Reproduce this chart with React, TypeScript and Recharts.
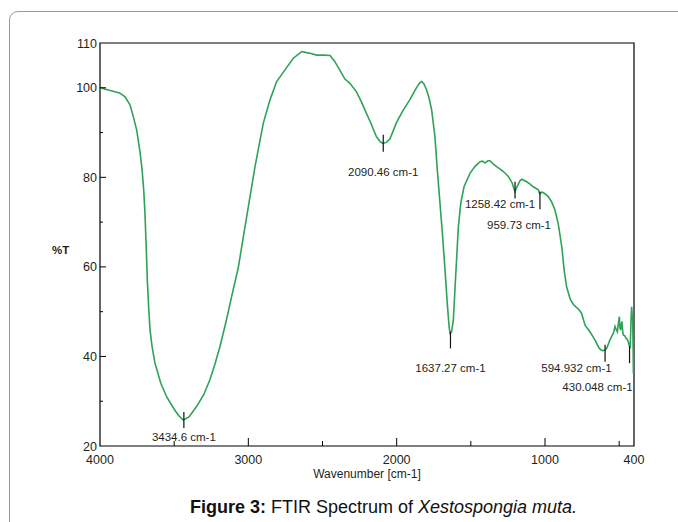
import React from "react";
import {
  LineChart,
  Line,
  XAxis,
  YAxis,
  ReferenceArea,
  ReferenceLine,
  ReferenceDot,
  Label,
} from "recharts";

// spectrum (wavenumber cm-1, %T)
const wavenumbers = [
  4000, 3944, 3900, 3865, 3831, 3798, 3775, 3753, 3742, 3730, 3717, 3705, 3697, 3689, 3681, 3672,
  3663, 3648, 3630, 3590, 3551, 3500, 3470, 3439, 3400, 3349, 3300, 3259, 3225, 3192, 3150, 3113,
  3068, 3011, 2955, 2899, 2854, 2809, 2753, 2697, 2640, 2600, 2584, 2539, 2490, 2449, 2420, 2384,
  2350, 2315, 2271, 2240, 2205, 2170, 2137, 2110, 2092, 2070, 2045, 2003, 1960, 1912, 1870, 1845,
  1831, 1815, 1798, 1780, 1764, 1742, 1726, 1708, 1690, 1674, 1659, 1646, 1640, 1630, 1618, 1600,
  1584, 1568, 1546, 1506, 1470, 1450, 1438, 1420, 1404, 1385, 1371, 1350, 1326, 1300, 1281, 1265,
  1247, 1222, 1210, 1202, 1194, 1182, 1170, 1157, 1140, 1124, 1100, 1079, 1060, 1045, 1038, 1034,
  1025, 1012, 995, 978, 955, 933, 910, 887, 870, 854, 830, 809, 790, 775, 753, 730,
  715, 697, 680, 663, 650, 634, 620, 607, 595, 584, 570, 562, 550, 539, 528, 520,
  512, 505, 499, 495, 490, 485, 481, 476, 472, 462, 454, 446, 439, 432, 427, 423,
  420, 416, 412, 409, 406, 404, 400,
];
const transmittance = [
  100.0, 99.5, 99.1, 98.8, 98.0, 96.2, 93.5, 90.6, 88.3, 85.5, 82.0, 77.0, 72.0, 65.0, 57.1, 51.0,
  46.0, 42.0, 38.6, 34.0, 31.0, 28.2, 26.8, 25.8, 26.5, 28.8, 31.5, 34.8, 38.3, 42.1, 47.8, 53.3,
  59.8, 71.2, 82.4, 92.1, 97.3, 101.4, 104.0, 106.6, 108.1, 107.8, 107.7, 107.3, 107.3, 107.2, 106.0, 104.0,
  102.0, 101.0, 99.1, 97.0, 94.4, 91.8, 89.1, 87.9, 87.6, 87.8, 88.6, 92.1, 94.8, 97.3, 99.8, 101.1,
  101.4, 100.8, 99.5, 97.5, 95.0, 89.1, 81.6, 74.2, 66.7, 59.3, 51.9, 46.5, 45.2, 45.5, 48.1, 59.3,
  69.0, 74.2, 77.9, 80.9, 82.5, 83.1, 83.5, 83.6, 83.2, 83.7, 83.7, 83.0, 82.4, 81.8, 81.3, 80.8,
  80.2, 78.8, 77.5, 76.8, 77.6, 78.3, 79.2, 79.6, 79.3, 79.0, 78.5, 77.9, 77.5, 77.2, 76.5, 76.3,
  76.7, 76.6, 76.2, 75.7, 74.5, 72.7, 69.5, 64.5, 59.0, 55.5, 52.8, 51.6, 51.0, 50.6, 49.6, 47.0,
  46.3, 45.5, 44.6, 43.7, 42.8, 41.8, 41.4, 41.3, 41.5, 41.8, 43.0, 43.7, 44.5, 45.2, 46.7, 46.0,
  45.5, 47.5, 48.9, 46.5, 45.9, 47.2, 47.8, 45.5, 44.8, 44.6, 44.1, 43.8, 43.3, 42.5, 41.8, 44.5,
  48.1, 51.1, 49.0, 48.1, 42.0, 36.2, 36.0,
];

const xTicks = [4000, 3500, 3000, 2500, 2000, 1500, 1000, 500, 400];
const xLabelled = [4000, 3000, 2000, 1000, 400];
const yTicks = [20, 30, 40, 50, 60, 70, 80, 90, 100, 110];
const yLabelled = [20, 40, 60, 80, 100, 110];

// peak markers: where the marker stands, marker span, label text and label centre
const peakX = [3434.6, 2090.46, 1637.27, 1202, 1034, 594.932, 430.048];
const peakTop = [27.6, 89.5, 45.5, 79.0, 76.8, 42.6, 42.3];
const peakBottom = [24.0, 85.7, 41.8, 75.3, 72.9, 38.8, 38.5];
const peakText = [
  "3434.6 cm-1",
  "2090.46 cm-1",
  "1637.27 cm-1",
  "1258.42 cm-1",
  "959.73 cm-1",
  "594.932 cm-1",
  "430.048 cm-1",
];
const peakLabelX = [3434.6, 2090.46, 1637.27, 1303, 1175, 788, 646];
const peakLabelY = [22.1, 81.2, 37.4, 74.0, 69.4, 37.4, 33.2];

const data = wavenumbers.map((w, i) => ({ w, t: transmittance[i] }));

const font = "'Liberation Sans', Arial, sans-serif";
const ink = "#231f20";

const XTick = ({ x, y, payload }: any) => {
  const v = payload.value;
  const major = xLabelled.includes(v);
  const edge = v === 4000 || v === 400;
  return (
    <g>
      {!edge && (
        <line x1={x} x2={x} y1={y} y2={y - (major ? 8 : 5)} stroke="#000" strokeWidth={1} />
      )}
      {major && (
        <text x={x} y={y + 18} textAnchor="middle" fontSize={12.5} fill={ink} fontFamily={font}>
          {v}
        </text>
      )}
    </g>
  );
};

const YTick = ({ x, y, payload }: any) => {
  const v = payload.value;
  const major = yLabelled.includes(v);
  const edge = v === 20 || v === 110;
  return (
    <g>
      {!edge && (
        <line x1={x} x2={x + (major ? 6 : 3)} y1={y} y2={y} stroke="#000" strokeWidth={1} />
      )}
      {major && (
        <text x={x - 3} y={y + 4.5} textAnchor="end" fontSize={12.5} fill={ink} fontFamily={font}>
          {v}
        </text>
      )}
    </g>
  );
};

export default function App() {
  return (
    <div
      style={{
        position: "absolute",
        left: 0,
        top: 0,
        width: 678,
        height: 522,
        overflow: "hidden",
        background: "#fff",
        fontFamily: font,
      }}
    >
      <div
        style={{
          position: "absolute",
          left: 9,
          top: 11,
          width: 700,
          height: 560,
          border: "1px solid #9a9a9a",
          borderRadius: 9,
          boxSizing: "border-box",
        }}
      />
      <div style={{ position: "absolute", left: 0, top: 0 }}>
        <LineChart
          width={678}
          height={522}
          data={data}
          margin={{ top: 43, right: 44, bottom: 40, left: 60 }}
        >
          <XAxis
            dataKey="w"
            type="number"
            domain={[400, 4000]}
            reversed
            allowDataOverflow
            ticks={xTicks}
            interval={0}
            tick={<XTick />}
            tickSize={0}
            tickMargin={0}
            tickLine={false}
            axisLine={false}
            height={36}
          >
            <Label
              value="Wavenumber [cm-1]"
              position="insideBottom"
              offset={4}
              fontSize={12}
              fill={ink}
              fontFamily={font}
            />
          </XAxis>
          <YAxis
            type="number"
            domain={[20, 110]}
            allowDataOverflow
            ticks={yTicks}
            interval={0}
            tick={<YTick />}
            tickSize={0}
            tickMargin={0}
            tickLine={false}
            axisLine={false}
            width={40}
          />
          <ReferenceArea
            x1={4000}
            x2={400}
            y1={20}
            y2={110}
            fill="none"
            stroke="#000"
            strokeWidth={1.2}
            ifOverflow="visible"
          />
          <Line
            type="linear"
            dataKey="t"
            stroke="#2ea257"
            strokeWidth={1.6}
            dot={false}
            isAnimationActive={false}
          />
          {peakX.map((px, i) => (
            <ReferenceLine
              key={"m" + i}
              segment={[
                { x: px, y: peakTop[i] },
                { x: px, y: peakBottom[i] },
              ]}
              stroke="#111"
              strokeWidth={1.2}
            />
          ))}
          {peakText.map((txt, i) => (
            <ReferenceDot
              key={"l" + i}
              x={peakLabelX[i]}
              y={peakLabelY[i]}
              r={0}
              fill="none"
              stroke="none"
              label={{
                value: txt,
                position: "center",
                fontSize: 11.5,
                fill: ink,
                fontFamily: font,
              }}
            />
          ))}
        </LineChart>
      </div>
      <div
        style={{
          position: "absolute",
          left: 52,
          top: 244,
          fontSize: 11.5,
          color: ink,
          fontWeight: "bold",
        }}
      >
        %T
      </div>
      <div
        style={{
          position: "absolute",
          left: 0,
          width: 767,
          top: 497,
          textAlign: "center",
          fontSize: 18,
          color: "#111",
          whiteSpace: "nowrap",
        }}
      >
        <b>Figure 3:</b> FTIR Spectrum of <i>Xestospongia muta.</i>
      </div>
    </div>
  );
}
